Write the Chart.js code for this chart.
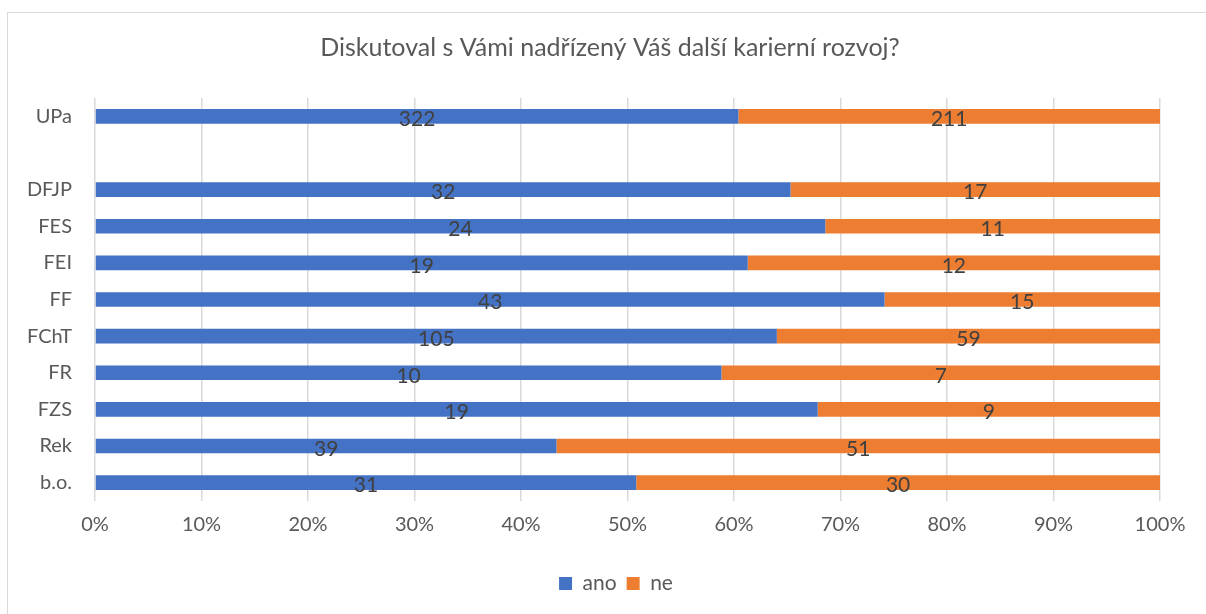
<!DOCTYPE html>
<html>
<head>
<meta charset="utf-8">
<script src="https://cdn.jsdelivr.net/npm/chart.js@4"></script>
<style>
    body { margin: 0; background: #fff; }
    #wrap { position: relative; width: 1206px; height: 614px; }
    #frame { position: absolute; left: 7px; top: 12px; right: 0; bottom: -2px; border-top: 1px solid #d9d9d9; border-left: 1px solid #d9d9d9; }
    canvas { position: absolute; left: 0; top: 0; }
</style>
</head>
<body>
<div id="wrap">
    <div id="frame"></div>
    <canvas id="myChart" width="1206" height="614"></canvas>
</div>
<script>
const categories = ['UPa', '', 'DFJP', 'FES', 'FEI', 'FF', 'FChT', 'FR', 'FZS', 'Rek', 'b.o.'];
const ano = [322, null, 32, 24, 19, 43, 105, 10, 19, 39, 31];
const ne = [211, null, 17, 11, 12, 15, 59, 7, 9, 51, 30];
const xTicks = ['0%', '10%', '20%', '30%', '40%', '50%', '60%', '70%', '80%', '90%', '100%'];

// procenta pro 100% skladany graf
function toPercent(a, b) {
    return a.map(function(v, i) {
        if (v === null) return null;
        return v / (v + b[i]) * 100;
    });
}

const counts = [ano, ne];

const labelPlugin = {
    id: 'labelPlugin',
    afterLayout: function(chart) {
        // titulek a legendu centrovat na celou sirku ramecku
        chart.titleBlock.left = 14;
        chart.titleBlock.right = 1206;
        chart.legend.left = 26;
        chart.legend.right = 1206;
        chart.legend.width = 1180;
    },
    afterDatasetsDraw: function(chart) {
        let ctx = chart.ctx;
        ctx.save();
        ctx.font = '21px Lato';
        ctx.fillStyle = '#404040';
        ctx.textAlign = 'center';
        ctx.textBaseline = 'middle';
        chart.data.datasets.forEach(function(ds, di) {
            let meta = chart.getDatasetMeta(di);
            meta.data.forEach(function(el, i) {
                let v = counts[di][i];
                if (v === null) return;
                let cx = (el.x + el.base) / 2;
                ctx.fillText(String(v), cx, el.y + 3);
            });
        });
        ctx.restore();
    }
};

let ctx = document.getElementById('myChart').getContext('2d');
let newChart = new Chart(ctx, {
    type: 'bar',
    data: {
        labels: categories,
        datasets: [{
            label: 'ano',
            data: toPercent(ano, ne),
            backgroundColor: '#4472C4',
            barPercentage: 0.4,
            categoryPercentage: 1
        }, {
            label: 'ne',
            data: toPercent(ne, ano),
            backgroundColor: '#ED7D31',
            barPercentage: 0.4,
            categoryPercentage: 1
        }]
    },
    options: {
        indexAxis: 'y',
        responsive: false,
        animation: false,
        layout: { padding: { left: 0, right: 46, top: 0, bottom: 10 } },
        plugins: {
            title: {
                display: true,
                text: 'Diskutoval s Vámi nadřízený Váš další karierní rozvoj?',
                color: '#595959',
                font: { family: 'Lato', size: 25, weight: 'normal' },
                padding: { top: 33, bottom: 35 }
            },
            legend: {
                position: 'bottom',
                labels: {
                    color: '#595959',
                    font: { family: 'Lato', size: 21 },
                    boxWidth: 13,
                    boxHeight: 13,
                    padding: 10
                }
            },
            tooltip: { enabled: false }
        },
        scales: {
            x: {
                stacked: true,
                min: 0,
                max: 100,
                ticks: {
                    stepSize: 10,
                    color: '#595959',
                    font: { family: 'Lato', size: 20 },
                    padding: 12,
                    callback: function(v, i) { return xTicks[i]; }
                },
                grid: { color: '#d9d9d9', lineWidth: 1.5, drawTicks: false },
                border: { display: false },
                afterFit: function(scale) { scale.height = 62; }
            },
            y: {
                stacked: true,
                ticks: {
                    color: '#595959',
                    font: { family: 'Lato', size: 20 },
                    padding: 15
                },
                grid: { display: false },
                border: { display: false },
                afterFit: function(scale) { scale.width = 95; }
            }
        }
    },
    plugins: [labelPlugin]
});
</script>
</body>
</html>
